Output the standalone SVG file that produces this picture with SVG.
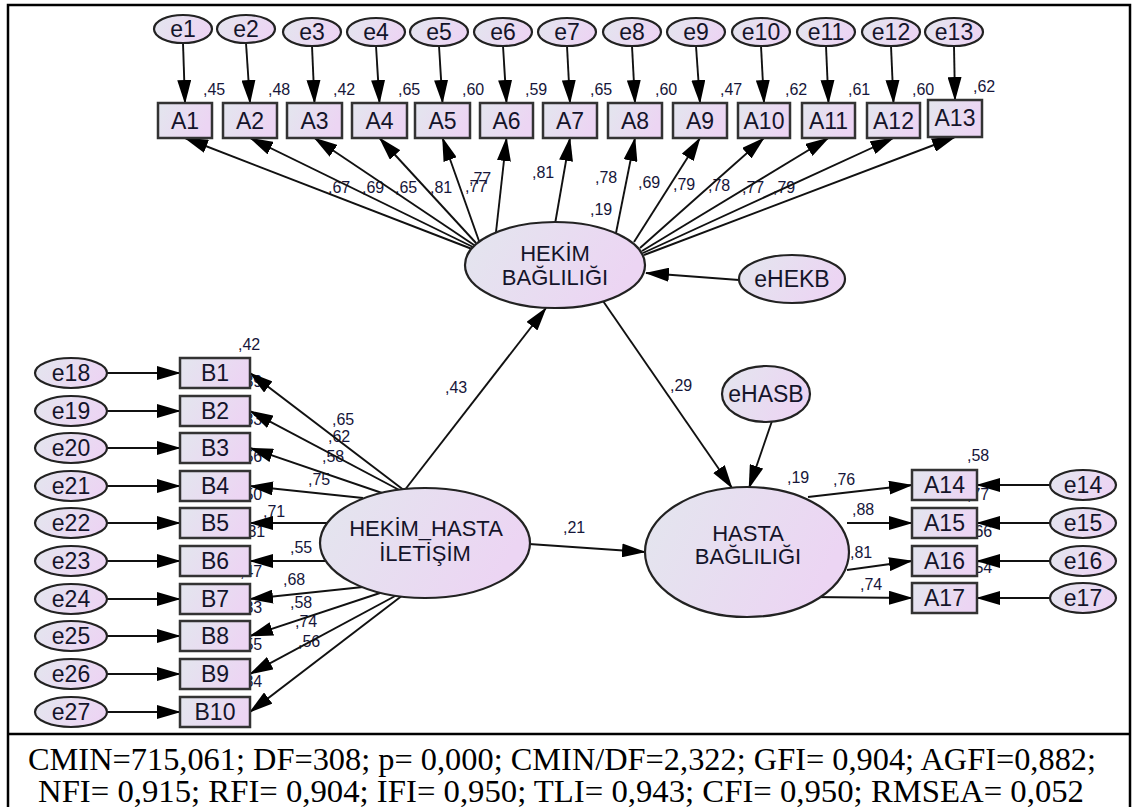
<svg xmlns="http://www.w3.org/2000/svg" width="1137" height="807" viewBox="0 0 1137 807">
<defs>
<linearGradient id="g" x1="0" y1="0" x2="1" y2="0.3">
<stop offset="0" stop-color="#e3e6ee"/>
<stop offset="1" stop-color="#ecd5f3"/>
</linearGradient>
<marker id="ah" viewBox="0 0 24 14" refX="23" refY="7" markerWidth="24" markerHeight="14" markerUnits="userSpaceOnUse" orient="auto">
<path d="M0,0 L24,7 L0,14 z" fill="#000"/>
</marker>
<style>
.bx{fill:url(#g);stroke:#333;stroke-width:2.5}
.el{fill:url(#g);stroke:#222;stroke-width:2.2}
.t{font-family:"Liberation Sans",Arial,sans-serif;font-size:23px;fill:#14142a;text-anchor:middle}
.lv{font-family:"Liberation Sans",Arial,sans-serif;font-size:22px;fill:#14142a;text-anchor:middle}
.c{font-family:"Liberation Sans",Arial,sans-serif;font-size:16px;fill:#16163a}
.ln{stroke:#111;stroke-width:1.9;fill:none;marker-end:url(#ah)}
.fr{stroke:#000;stroke-width:2.5;fill:none}
.ft{font-family:"Liberation Serif","Times New Roman",serif;font-size:31px;fill:#000}
</style>
</defs>
<rect width="1137" height="807" fill="#fff"/>
<g id="frame">
<rect class="fr" x="8" y="5" width="1122" height="840"/>
<line class="fr" x1="8" y1="734" x2="1130" y2="734"/>
</g>
<g id="labels">
<text class="c" x="203" y="95">,45</text>
<text class="c" x="268" y="95">,48</text>
<text class="c" x="333" y="95">,42</text>
<text class="c" x="398" y="95">,65</text>
<text class="c" x="462" y="95">,60</text>
<text class="c" x="525" y="95">,59</text>
<text class="c" x="590" y="95">,65</text>
<text class="c" x="655" y="95">,60</text>
<text class="c" x="720" y="95">,47</text>
<text class="c" x="785" y="95">,62</text>
<text class="c" x="848" y="95">,61</text>
<text class="c" x="912" y="95">,60</text>
<text class="c" x="973" y="92">,62</text>
<text class="c" x="328" y="193">,67</text>
<text class="c" x="362" y="193">,69</text>
<text class="c" x="395" y="193">,65</text>
<text class="c" x="430" y="193">,81</text>
<text class="c" x="465" y="192">,77</text>
<text class="c" x="469" y="184">,77</text>
<text class="c" x="532" y="178">,81</text>
<text class="c" x="595" y="183">,78</text>
<text class="c" x="590" y="215">,19</text>
<text class="c" x="638" y="188">,69</text>
<text class="c" x="673" y="190">,79</text>
<text class="c" x="708" y="191">,78</text>
<text class="c" x="742" y="193">,77</text>
<text class="c" x="773" y="193">,79</text>
<text class="c" x="238" y="350">,42</text>
<text class="c" x="240" y="387">,39</text>
<text class="c" x="240" y="425">,33</text>
<text class="c" x="240" y="462">,56</text>
<text class="c" x="240" y="500">,50</text>
<text class="c" x="243" y="537">,31</text>
<text class="c" x="240" y="577">,47</text>
<text class="c" x="240" y="613">,33</text>
<text class="c" x="240" y="650">,55</text>
<text class="c" x="240" y="687">,34</text>
<text class="c" x="332" y="425">,65</text>
<text class="c" x="328" y="442">,62</text>
<text class="c" x="322" y="462">,58</text>
<text class="c" x="308" y="485">,75</text>
<text class="c" x="263" y="517">,71</text>
<text class="c" x="290" y="553">,55</text>
<text class="c" x="283" y="585">,68</text>
<text class="c" x="290" y="608">,58</text>
<text class="c" x="295" y="627">,74</text>
<text class="c" x="298" y="647">,56</text>
<text class="c" x="445" y="393">,43</text>
<text class="c" x="670" y="391">,29</text>
<text class="c" x="563" y="533">,21</text>
<text class="c" x="787" y="483">,19</text>
<text class="c" x="833" y="485">,76</text>
<text class="c" x="852" y="515">,88</text>
<text class="c" x="850" y="558">,81</text>
<text class="c" x="860" y="590">,74</text>
<text class="c" x="967" y="461">,58</text>
<text class="c" x="967" y="500">,77</text>
<text class="c" x="970" y="537">,66</text>
<text class="c" x="970" y="573">,54</text>
</g>
<g id="connectors">
<line class="ln" x1="183" y1="43" x2="185" y2="103"/>
<line class="ln" x1="246" y1="43" x2="250" y2="103"/>
<line class="ln" x1="312" y1="46" x2="314.5" y2="103"/>
<line class="ln" x1="376" y1="46" x2="379.5" y2="103"/>
<line class="ln" x1="439" y1="46" x2="442.5" y2="103"/>
<line class="ln" x1="503" y1="46" x2="506.5" y2="103"/>
<line class="ln" x1="567" y1="46" x2="570" y2="103"/>
<line class="ln" x1="632" y1="46" x2="635" y2="103"/>
<line class="ln" x1="696" y1="46" x2="700" y2="103"/>
<line class="ln" x1="761" y1="46" x2="764" y2="103"/>
<line class="ln" x1="826" y1="46" x2="828.5" y2="103"/>
<line class="ln" x1="891" y1="46" x2="893.5" y2="103"/>
<line class="ln" x1="954" y1="46" x2="955" y2="100"/>
<line class="ln" x1="472" y1="249" x2="185" y2="138"/>
<line class="ln" x1="473" y1="247" x2="250" y2="138"/>
<line class="ln" x1="474" y1="245" x2="314.5" y2="138"/>
<line class="ln" x1="476" y1="243" x2="379.5" y2="138"/>
<line class="ln" x1="479" y1="241" x2="442.5" y2="138"/>
<line class="ln" x1="496" y1="232" x2="506.5" y2="138"/>
<line class="ln" x1="555" y1="224" x2="570" y2="138"/>
<line class="ln" x1="616" y1="233" x2="635" y2="138"/>
<line class="ln" x1="634" y1="242" x2="700" y2="138"/>
<line class="ln" x1="640" y1="248" x2="764" y2="138"/>
<line class="ln" x1="642" y1="251" x2="828.5" y2="138"/>
<line class="ln" x1="643" y1="253" x2="893.5" y2="138"/>
<line class="ln" x1="644" y1="255" x2="955" y2="137"/>
<line class="ln" x1="739" y1="280" x2="646" y2="273"/>
<line class="ln" x1="404" y1="491" x2="546" y2="308"/>
<line class="ln" x1="603" y1="301" x2="732" y2="488"/>
<line class="ln" x1="772" y1="421" x2="749" y2="488"/>
<line class="ln" x1="529" y1="544" x2="645" y2="552"/>
<line class="ln" x1="107" y1="373" x2="180" y2="373"/>
<line class="ln" x1="107" y1="411" x2="180" y2="411"/>
<line class="ln" x1="107" y1="448" x2="180" y2="448"/>
<line class="ln" x1="107" y1="486" x2="180" y2="486"/>
<line class="ln" x1="107" y1="523" x2="180" y2="523"/>
<line class="ln" x1="107" y1="561" x2="180" y2="561"/>
<line class="ln" x1="107" y1="599" x2="180" y2="599"/>
<line class="ln" x1="107" y1="636" x2="180" y2="636"/>
<line class="ln" x1="107" y1="674" x2="180" y2="674"/>
<line class="ln" x1="107" y1="712" x2="180" y2="712"/>
<line class="ln" x1="405" y1="491" x2="250" y2="373"/>
<line class="ln" x1="403" y1="492" x2="250" y2="411"/>
<line class="ln" x1="385" y1="494" x2="250" y2="448"/>
<line class="ln" x1="363" y1="498" x2="250" y2="486"/>
<line class="ln" x1="328" y1="523" x2="250" y2="523"/>
<line class="ln" x1="326" y1="561" x2="250" y2="561"/>
<line class="ln" x1="363" y1="587" x2="250" y2="599"/>
<line class="ln" x1="383" y1="592" x2="250" y2="636"/>
<line class="ln" x1="397" y1="595" x2="250" y2="674"/>
<line class="ln" x1="403" y1="595" x2="250" y2="712"/>
<line class="ln" x1="808" y1="497" x2="912" y2="485"/>
<line class="ln" x1="847" y1="523" x2="912" y2="523"/>
<line class="ln" x1="847" y1="570" x2="912" y2="561"/>
<line class="ln" x1="810" y1="597" x2="912" y2="598"/>
<line class="ln" x1="1050" y1="485" x2="977" y2="485"/>
<line class="ln" x1="1050" y1="523" x2="977" y2="523"/>
<line class="ln" x1="1050" y1="561" x2="977" y2="561"/>
<line class="ln" x1="1050" y1="598" x2="977" y2="598"/>
</g>
<g id="e1"><ellipse class="el" cx="183" cy="29" rx="29" ry="14"/><text class="t" x="183" y="37">e1</text></g>
<g id="e2"><ellipse class="el" cx="246" cy="29" rx="29" ry="14"/><text class="t" x="246" y="37">e2</text></g>
<g id="e3"><ellipse class="el" cx="312" cy="32" rx="29" ry="14"/><text class="t" x="312" y="40">e3</text></g>
<g id="e4"><ellipse class="el" cx="376" cy="32" rx="29" ry="14"/><text class="t" x="376" y="40">e4</text></g>
<g id="e5"><ellipse class="el" cx="439" cy="32" rx="29" ry="14"/><text class="t" x="439" y="40">e5</text></g>
<g id="e6"><ellipse class="el" cx="503" cy="32" rx="29" ry="14"/><text class="t" x="503" y="40">e6</text></g>
<g id="e7"><ellipse class="el" cx="567" cy="32" rx="29" ry="14"/><text class="t" x="567" y="40">e7</text></g>
<g id="e8"><ellipse class="el" cx="632" cy="32" rx="29" ry="14"/><text class="t" x="632" y="40">e8</text></g>
<g id="e9"><ellipse class="el" cx="696" cy="32" rx="29" ry="14"/><text class="t" x="696" y="40">e9</text></g>
<g id="e10"><ellipse class="el" cx="761" cy="32" rx="29" ry="14"/><text class="t" x="761" y="40">e10</text></g>
<g id="e11"><ellipse class="el" cx="826" cy="32" rx="29" ry="14"/><text class="t" x="826" y="40">e11</text></g>
<g id="e12"><ellipse class="el" cx="891" cy="32" rx="29" ry="14"/><text class="t" x="891" y="40">e12</text></g>
<g id="e13"><ellipse class="el" cx="954" cy="32" rx="29" ry="14"/><text class="t" x="954" y="40">e13</text></g>
<g id="A1"><rect class="bx" x="158" y="103" width="54" height="35"/><text class="t" x="185" y="129">A1</text></g>
<g id="A2"><rect class="bx" x="223" y="103" width="54" height="35"/><text class="t" x="250" y="129">A2</text></g>
<g id="A3"><rect class="bx" x="287" y="103" width="55" height="35"/><text class="t" x="314.5" y="129">A3</text></g>
<g id="A4"><rect class="bx" x="352" y="103" width="55" height="35"/><text class="t" x="379.5" y="129">A4</text></g>
<g id="A5"><rect class="bx" x="415" y="103" width="55" height="35"/><text class="t" x="442.5" y="129">A5</text></g>
<g id="A6"><rect class="bx" x="480" y="103" width="53" height="35"/><text class="t" x="506.5" y="129">A6</text></g>
<g id="A7"><rect class="bx" x="543" y="103" width="54" height="35"/><text class="t" x="570" y="129">A7</text></g>
<g id="A8"><rect class="bx" x="608" y="103" width="54" height="35"/><text class="t" x="635" y="129">A8</text></g>
<g id="A9"><rect class="bx" x="673" y="103" width="54" height="35"/><text class="t" x="700" y="129">A9</text></g>
<g id="A10"><rect class="bx" x="738" y="103" width="52" height="35"/><text class="t" x="764" y="129">A10</text></g>
<g id="A11"><rect class="bx" x="802" y="103" width="53" height="35"/><text class="t" x="828.5" y="129">A11</text></g>
<g id="A12"><rect class="bx" x="867" y="103" width="53" height="35"/><text class="t" x="893.5" y="129">A12</text></g>
<g id="A13"><rect class="bx" x="928" y="100" width="54" height="37"/><text class="t" x="955" y="126">A13</text></g>
<g id="HEKIM_BAGLILIGI"><ellipse class="el" cx="555" cy="265" rx="90" ry="43"/><text class="lv" x="555" y="261">HEKİM</text><text class="lv" x="555" y="285">BAĞLILIĞI</text></g>
<g id="eHEKB"><ellipse class="el" cx="792" cy="279" rx="53" ry="24"/><text class="t" x="792" y="287">eHEKB</text></g>
<g id="HEKIM_HASTA_ILETISIM"><ellipse class="el" cx="425" cy="543" rx="105" ry="55"/><text class="lv" x="426" y="536">HEKİM_HASTA</text><text class="lv" x="425" y="561">İLETİŞİM</text></g>
<g id="HASTA_BAGLILIGI"><ellipse class="el" cx="747" cy="552" rx="102" ry="65"/><text class="lv" x="748" y="541">HASTA</text><text class="lv" x="748" y="564">BAĞLILIĞI</text></g>
<g id="eHASB"><ellipse class="el" cx="766" cy="394" rx="44" ry="28"/><text class="t" x="766" y="402">eHASB</text></g>
<g id="B1"><rect class="bx" x="180" y="358" width="70" height="30"/><text class="t" x="215" y="381">B1</text></g>
<g id="B2"><rect class="bx" x="180" y="396" width="70" height="30"/><text class="t" x="215" y="419">B2</text></g>
<g id="B3"><rect class="bx" x="180" y="433" width="70" height="30"/><text class="t" x="215" y="456">B3</text></g>
<g id="B4"><rect class="bx" x="180" y="471" width="70" height="30"/><text class="t" x="215" y="494">B4</text></g>
<g id="B5"><rect class="bx" x="180" y="508" width="70" height="30"/><text class="t" x="215" y="531">B5</text></g>
<g id="B6"><rect class="bx" x="180" y="546" width="70" height="30"/><text class="t" x="215" y="569">B6</text></g>
<g id="B7"><rect class="bx" x="180" y="584" width="70" height="30"/><text class="t" x="215" y="607">B7</text></g>
<g id="B8"><rect class="bx" x="180" y="621" width="70" height="30"/><text class="t" x="215" y="644">B8</text></g>
<g id="B9"><rect class="bx" x="180" y="659" width="70" height="30"/><text class="t" x="215" y="682">B9</text></g>
<g id="B10"><rect class="bx" x="180" y="697" width="70" height="30"/><text class="t" x="215" y="720">B10</text></g>
<g id="e18"><ellipse class="el" cx="71" cy="373" rx="36" ry="15"/><text class="t" x="71" y="381">e18</text></g>
<g id="e19"><ellipse class="el" cx="71" cy="411" rx="36" ry="15"/><text class="t" x="71" y="419">e19</text></g>
<g id="e20"><ellipse class="el" cx="71" cy="448" rx="36" ry="15"/><text class="t" x="71" y="456">e20</text></g>
<g id="e21"><ellipse class="el" cx="71" cy="486" rx="36" ry="15"/><text class="t" x="71" y="494">e21</text></g>
<g id="e22"><ellipse class="el" cx="71" cy="523" rx="36" ry="15"/><text class="t" x="71" y="531">e22</text></g>
<g id="e23"><ellipse class="el" cx="71" cy="561" rx="36" ry="15"/><text class="t" x="71" y="569">e23</text></g>
<g id="e24"><ellipse class="el" cx="71" cy="599" rx="36" ry="15"/><text class="t" x="71" y="607">e24</text></g>
<g id="e25"><ellipse class="el" cx="71" cy="636" rx="36" ry="15"/><text class="t" x="71" y="644">e25</text></g>
<g id="e26"><ellipse class="el" cx="71" cy="674" rx="36" ry="15"/><text class="t" x="71" y="682">e26</text></g>
<g id="e27"><ellipse class="el" cx="71" cy="712" rx="36" ry="15"/><text class="t" x="71" y="720">e27</text></g>
<g id="A14"><rect class="bx" x="912" y="470" width="65" height="30"/><text class="t" x="944.5" y="493">A14</text></g>
<g id="A15"><rect class="bx" x="912" y="508" width="65" height="30"/><text class="t" x="944.5" y="531">A15</text></g>
<g id="A16"><rect class="bx" x="912" y="546" width="65" height="30"/><text class="t" x="944.5" y="569">A16</text></g>
<g id="A17"><rect class="bx" x="912" y="583" width="65" height="30"/><text class="t" x="944.5" y="606">A17</text></g>
<g id="e14"><ellipse class="el" cx="1083" cy="485" rx="33" ry="15"/><text class="t" x="1083" y="493">e14</text></g>
<g id="e15"><ellipse class="el" cx="1083" cy="523" rx="33" ry="15"/><text class="t" x="1083" y="531">e15</text></g>
<g id="e16"><ellipse class="el" cx="1083" cy="561" rx="33" ry="15"/><text class="t" x="1083" y="569">e16</text></g>
<g id="e17"><ellipse class="el" cx="1083" cy="598" rx="33" ry="15"/><text class="t" x="1083" y="606">e17</text></g>
<g id="fit">
<text class="ft" x="28" y="770" textLength="1068" lengthAdjust="spacingAndGlyphs">CMIN=715,061; DF=308; p= 0,000; CMIN/DF=2,322; GFI= 0,904; AGFI=0,882;</text>
<text class="ft" x="38" y="802" textLength="1046" lengthAdjust="spacingAndGlyphs">NFI= 0,915; RFI= 0,904; IFI= 0,950; TLI= 0,943; CFI= 0,950; RMSEA= 0,052</text>
</g>
</svg>
